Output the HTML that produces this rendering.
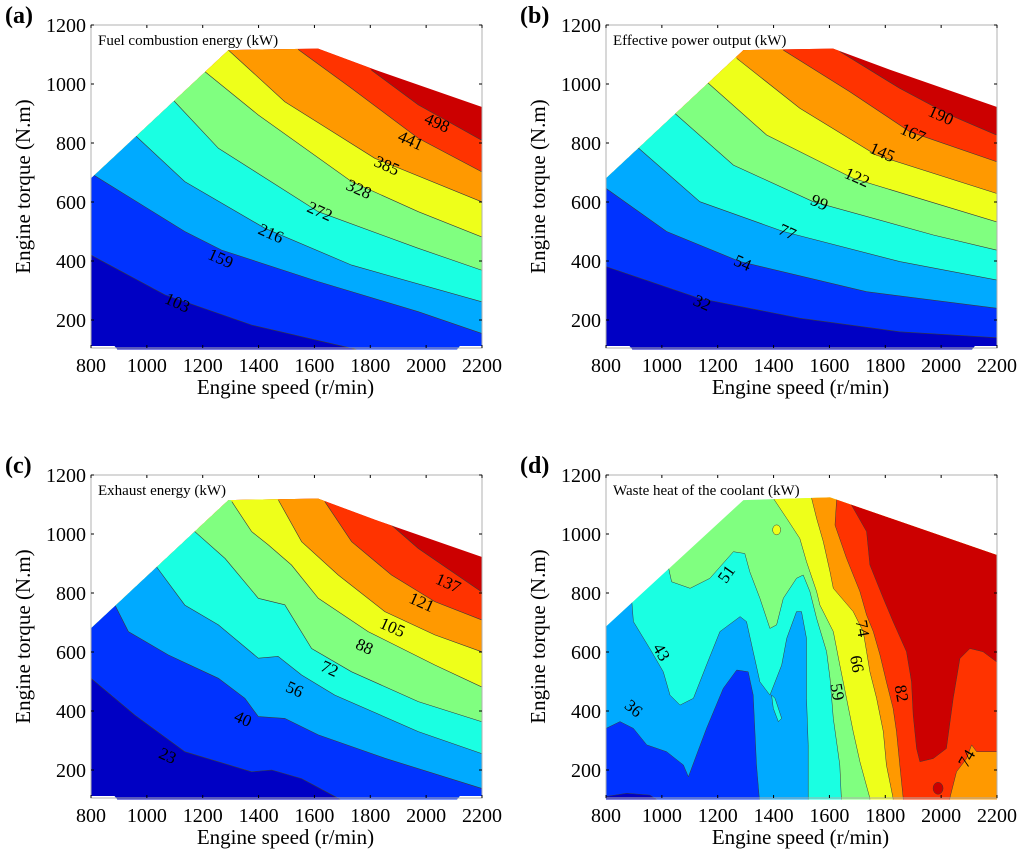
<!DOCTYPE html>
<html><head><meta charset="utf-8"><style>
html,body{margin:0;padding:0;background:#fff;overflow:hidden;}
svg{display:block;font-family:"Liberation Serif",serif;}
</style></head><body>
<svg id="chart" width="1024" height="855" viewBox="0 0 1024 855" xmlns="http://www.w3.org/2000/svg"></svg>
<script>
// ---- shared axis data ----
const xTicks = [800,1000,1200,1400,1600,1800,2000,2200];
const yTicks = [200,400,600,800,1000,1200];
const bandColors = ["#0000C4","#0033FF","#00AAFF","#1AFFE2","#80FF80","#EEFF1A","#FF9900","#FF3300","#CC0000"];

// envelope (max torque) of the operating region
const envABC = [[800,112],[800,680],[1292,1115],[1613,1120],[1817,1048],[2200,922],[2200,112],[2120,112],[2110,100],[895,100],[885,112]];
const envD = [[800,100],[800,686],[1292,1115],[1602,1124],[2198,929],[2200,100]];

// ---- panel (a) Fuel combustion energy ----
const levelsA = [103,159,216,272,328,385,441,498];
const linesA = [
 [[800,420],[1065,285],[1375,183],[1733,104],[1900,60]],
 [[800,697],[1136,500],[1268,437],[1614,330],[1972,228],[2198,155]],
 [[957,827],[1136,669],[1423,511],[1733,386],[2198,262]],
 [[1089,951],[1256,782],[1614,567],[1972,443],[2198,369]],
 [[1208,1042],[1399,895],[1733,669],[1972,567],[2198,482]],
 [[1292,1115],[1494,940],[1816,748],[2198,601]],
 [[1542,1117],[1733,985],[1972,816],[2198,703]],
 [[1804,1047],[1972,929],[2198,810]]
];
const labelsA = [[1110,260],[1265,410],[1445,495],[1620,570],[1760,645],[1860,725],[1945,810],[2040,870]];

// ---- panel (b) Effective power output ----
const levelsB = [32,54,77,99,122,145,167,190];
const linesB = [
 [[800,381],[1136,273],[1494,206],[1852,160],[2198,140]],
 [[800,646],[1017,500],[1280,398],[1733,296],[2198,240]],
 [[910,788],[1136,601],[1435,500],[1852,398],[2198,336]],
 [[1047,900],[1256,725],[1542,601],[1972,488],[2198,437]],
 [[1160,1008],[1375,827],[1685,680],[2198,533]],
 [[1268,1087],[1494,918],[1768,759],[2198,629]],
 [[1435,1115],[1673,974],[1888,838],[2198,737]],
 [[1637,1110],[1852,985],[2031,895],[2198,827]]
];
const labelsB = [[1145,260],[1290,395],[1450,500],[1565,600],[1700,685],[1790,770],[1900,835],[2000,895]];

// ---- panel (c) Exhaust energy ----
const levelsC = [23,40,56,72,88,105,121,137];
const linesC = [
 [[800,511],[957,386],[1136,262],[1375,194],[1447,200],[1554,171],[1685,104],[1750,60]],
 [[886,759],[934,669],[1077,590],[1256,511],[1351,443],[1399,381],[1494,375],[1614,319],[1852,240],[2198,138]],
 [[1030,895],[1136,759],[1256,692],[1399,579],[1470,585],[1554,522],[1673,454],[1972,330],[2198,256]],
 [[1166,1013],[1280,917],[1399,782],[1494,760],[1590,612],[1733,533],[1972,432],[2198,364]],
 [[1304,1110],[1375,1008],[1435,963],[1518,895],[1614,782],[1792,669],[2031,556],[2198,482]],
 [[1471,1115],[1554,974],[1685,861],[1852,737],[2031,658],[2198,601]],
 [[1637,1110],[1733,974],[1876,861],[2031,771],[2198,709]],
 [[1876,1030],[1972,951],[2198,804]]
];
const labelsC = [[1075,250],[1345,375],[1530,475],[1655,545],[1780,620],[1880,685],[1985,770],[2080,835]];

// ---- panel (d) Waste heat of the coolant: region polygons (speed, torque) ----
const regionsD = [
 {c:4, pts:[[700,80],[700,1300],[2300,1300],[2300,80]]},
 {c:3, pts:[[700,889],[1023,889],[1035,838],[1101,816],[1172,850],[1256,940],[1297,934],[1315,872],[1351,782],[1387,680],[1411,692],[1435,782],[1482,850],[1506,861],[1530,805],[1554,714],[1590,601],[1602,511],[1614,375],[1637,217],[1643,100],[1643,80],[700,80]]},
 {c:2, pts:[[700,776],[892,776],[898,703],[957,612],[1005,533],[1029,454],[1065,420],[1113,443],[1160,556],[1208,669],[1280,720],[1303,703],[1327,601],[1351,499],[1387,454],[1399,483],[1429,556],[1447,646],[1482,737],[1500,737],[1518,646],[1518,443],[1524,285],[1524,80],[700,80]]},
 {c:3, pts:[[1393,454],[1405,443],[1429,375],[1417,364],[1399,409]]},
 {c:1, pts:[[700,341],[800,341],[850,364],[898,341],[946,285],[1017,262],[1077,217],[1095,177],[1124,251],[1160,341],[1220,477],[1268,539],[1309,533],[1327,454],[1339,217],[1351,80],[700,80]]},
 {c:0, pts:[[700,110],[800,110],[874,121],[957,115],[981,100],[981,80],[700,80]]},
 {c:5, pts:[[1399,1250],[1399,1121],[1447,1053],[1494,985],[1518,906],[1554,805],[1566,759],[1614,669],[1637,556],[1661,443],[1685,330],[1709,228],[1745,104],[1745,80],[2300,80],[2300,1250]]},
 {c:6, pts:[[1536,1250],[1536,1121],[1554,1053],[1578,974],[1602,872],[1614,816],[1685,737],[1721,669],[1733,601],[1745,533],[1769,443],[1793,330],[1804,217],[1828,104],[1828,80],[2300,80],[2300,1250]]},
 {c:7, pts:[[1626,1250],[1626,1121],[1620,1030],[1661,918],[1709,805],[1733,725],[1757,669],[1781,590],[1804,499],[1828,409],[1840,330],[1852,217],[1864,104],[1864,80],[2300,80],[2300,1250]]},
 {c:8, pts:[[1679,1250],[1679,1098],[1733,1008],[1745,895],[1793,782],[1828,703],[1876,601],[1894,499],[1900,386],[1912,273],[1924,228],[1972,239],[2019,273],[2043,443],[2067,578],[2103,612],[2150,601],[2198,567],[2300,567],[2300,1250]]},
 {c:6, pts:[[2031,80],[2031,104],[2055,194],[2091,239],[2109,285],[2127,262],[2300,262],[2300,80]]}
];
const spotsD = [{c:8, s:1989, t:138, r:5},{c:5, s:1411, t:1014, r:4}];
const labelsD = [[51,1230,865,-55],[43,1000,600,60],[36,900,410,40],[59,1630,465,80],[66,1700,560,80],[74,1720,680,80],[82,1860,460,80],[74,2090,240,-60]];

// ---- drawing ----
const NS = "http://www.w3.org/2000/svg";
const svg = document.getElementById("chart");
const PW = 391, PH = 323;
function mk(tag, attrs, parent){ const e=document.createElementNS(NS,tag); for(const k in attrs) e.setAttribute(k,attrs[k]); (parent||svg).appendChild(e); return e; }
function axes(ox,oy){
  return { x: s => ox + (s-800)/1400*PW, y: t => oy + (1200-t)*0.295 };
}
function ptsStr(ax, arr){ return arr.map(p => ax.x(p[0]).toFixed(1)+","+ax.y(p[1]).toFixed(1)).join(" "); }

function frame(id, ox, oy, env){
  const ax = axes(ox,oy);
  const g = mk("g",{});
  
  
  const cp = mk("clipPath",{id:"clip-"+id}, g);
  mk("polygon",{points:ptsStr(ax,env)}, cp);
  const inner = mk("g",{"clip-path":"url(#clip-"+id+")"}, g);
  
  
  return {ax, g, inner};
}
function decorate(P, letter, title, ox, oy){
  const {ax,g} = P;
  const box = mk("rect",{x:ox,y:oy,width:PW,height:PH,fill:"none",stroke:"#b0b0b0","stroke-width":1}, g);
  
  
  xTicks.forEach(v => {
    const x = ax.x(v);
    mk("line",{x1:x,x2:x,y1:oy,y2:oy+3,stroke:"#000"}, g);
    mk("line",{x1:x,x2:x,y1:oy+PH,y2:oy+PH-3,stroke:"#000"}, g);
    const t = mk("text",{x:x,y:oy+PH+24,"font-size":20,"text-anchor":"middle"}, g);
    
    
    t.textContent = v;
  });
  yTicks.forEach(v => {
    const y = ax.y(v);
    mk("line",{x1:ox,x2:ox+3,y1:y,y2:y,stroke:"#000"}, g);
    mk("line",{x1:ox+PW,x2:ox+PW-3,y1:y,y2:y,stroke:"#000"}, g);
    const t = mk("text",{x:ox-5,y:y+7,"font-size":20,"text-anchor":"end"}, g);
    
    
    t.textContent = v;
  });
  const xt = mk("text",{x:ox+PW/2-1,y:oy+PH+46,"font-size":21,"text-anchor":"middle"}, g);
  
  
  xt.textContent = "Engine speed (r/min)";
  const yt = mk("text",{x:0,y:0,"font-size":21,"text-anchor":"middle",transform:"translate("+(ox-61)+","+(oy+PH/2)+") rotate(-90)"}, g);
  
  
  yt.textContent = "Engine torque (N.m)";
  const lt = mk("text",{x:ox-86,y:oy-2,"font-size":24,"font-weight":"bold"}, g);
  
  
  lt.textContent = letter;
  const tt = mk("text",{x:ox+7,y:oy+20,"font-size":15}, g);
  
  
  tt.textContent = title;
}
function contourPanel(id, letter, title, ox, oy, lines, levels, labels){
  const P = frame(id, ox, oy, envABC);
  const {ax, inner} = P;
  const bg = mk("rect",{x:ox-5,y:oy-5,width:PW+10,height:PH+10,fill:bandColors[lines.length]}, inner);
  
  
  for(let k=lines.length-1;k>=0;k--){
    const L = lines[k];
    const f = L[0], l = L[L.length-1];
    const ext = [[600,1500],[f[0]-150,f[1]+200]].concat(L,[[l[0]+150,l[1]]]);
    const poly = ext.concat([[l[0]+150,-300],[600,-300]]);
    const p = mk("polygon",{points:ptsStr(ax,poly),fill:bandColors[k]}, inner);
    
    
  }
  lines.forEach((L,k) => {
    const pl = mk("polyline",{points:ptsStr(ax,L),fill:"none",stroke:"#3a3a3a","stroke-width":0.6}, inner);
    
    
  });
  labels.forEach((p,k) => {
    const x = ax.x(p[0]), y = ax.y(p[1]);
    const t = mk("text",{x:x,y:y+6,"font-size":17,"text-anchor":"middle",transform:"rotate(24 "+x+" "+y+")"}, P.g);
    
    
    t.textContent = levels[k];
  });
  decorate(P, letter, title, ox, oy);
}

contourPanel("a","(a)","Fuel combustion energy (kW)",91,25,linesA,levelsA,labelsA);
contourPanel("b","(b)","Effective power output (kW)",606,25,linesB,levelsB,labelsB);
contourPanel("c","(c)","Exhaust energy (kW)",91,475,linesC,levelsC,labelsC);

(function(){
  const ox=606, oy=475;
  const P = frame("d",ox,oy,envD);
  const {ax, inner} = P;
  regionsD.forEach(r => {
    const p = mk("polygon",{points:ptsStr(ax,r.pts),fill:bandColors[r.c],stroke:"#3a3a3a","stroke-width":0.5}, inner);
    
    
  });
  spotsD.forEach(s => {
    const c = mk("ellipse",{cx:ax.x(s.s),cy:ax.y(s.t),rx:s.r,ry:s.r+1,fill:bandColors[s.c],stroke:"#3a3a3a","stroke-width":0.5}, inner);
    
    
  });
  labelsD.forEach(l => {
    const x = ax.x(l[1]), y = ax.y(l[2]);
    const t = mk("text",{x:x,y:y+6,"font-size":17,"text-anchor":"middle",transform:"rotate("+l[3]+" "+x+" "+y+")"}, P.g);
    
    
    t.textContent = l[0];
  });
  decorate(P,"(d)","Waste heat of the coolant (kW)",ox,oy);
})();
</script>
</body></html>
